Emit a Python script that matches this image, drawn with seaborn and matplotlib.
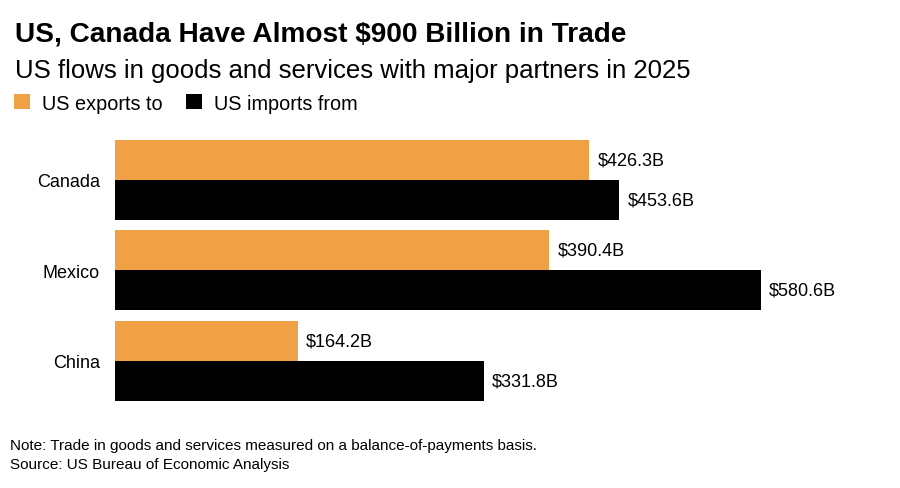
import matplotlib
matplotlib.use("Agg")
import pandas as pd
import seaborn as sns
import matplotlib.pyplot as plt

countries = ["Canada", "Mexico", "China"]
exports = [426.3, 390.4, 164.2]
imports = [453.6, 580.6, 331.8]
series = ["US exports to", "US imports from"]
colors = ["#F0A045", "#000000"]

df = pd.DataFrame({
    "country": countries * 2,
    "flow": [series[0]] * len(countries) + [series[1]] * len(countries),
    "value": exports + imports,
})

sns.set_theme(style="white")
plt.rcParams["font.family"] = ["Liberation Sans", "DejaVu Sans"]
plt.rcParams["text.color"] = "black"
plt.rcParams["ytick.color"] = "black"
plt.rcParams["ytick.labelcolor"] = "black"

W, H = 900, 489
fig = plt.figure(figsize=(W / 100, H / 100), dpi=100)
ax = fig.add_axes([115 / W, 1 - 407 / H, 765 / W, 271.5 / H])

sns.barplot(data=df, y="country", x="value", hue="flow", palette=colors,
            saturation=1, width=0.885, linewidth=0, orient="h", ax=ax)

ax.set_xlim(0, 688)
ax.set_ylim(2.5, -0.5)
ax.set_xticks([])
ax.set_xlabel("")
ax.set_ylabel("")
sns.despine(ax=ax, left=True, bottom=True)
ax.tick_params(axis="y", length=0, pad=11, labelsize=13, labelcolor="black")

for cont, vals in zip(ax.containers, [exports, imports]):
    ax.bar_label(cont, labels=[f"${v:.1f}B" for v in vals], padding=6,
                 fontsize=13, color="black")

handles, labels = ax.get_legend_handles_labels()
ax.get_legend().remove()
leg = fig.legend(handles, labels, loc="center left", bbox_to_anchor=(14 / W, 1 - 104 / H),
                 ncol=2, frameon=False, fontsize=14.3, handlelength=0.8, handleheight=0.8,
                 handletextpad=0.6, columnspacing=1.2, borderaxespad=0, borderpad=0)
for t in leg.get_texts():
    t.set_color("black")

fig.text(15 / W, 1 - 41 / H, "US, Canada Have Almost $900 Billion in Trade",
         fontsize=20.2, fontweight="bold", va="baseline", color="black")
fig.text(15 / W, 1 - 78 / H, "US flows in goods and services with major partners in 2025",
         fontsize=18.5, va="baseline", color="black")
narrow = ["Liberation Sans Narrow", "Liberation Sans", "DejaVu Sans"]
fig.text(10 / W, 1 - 450 / H,
         "Note: Trade in goods and services measured on a balance-of-payments basis.",
         fontsize=11, va="baseline", family=narrow, color="black")
fig.text(10 / W, 1 - 469 / H, "Source: US Bureau of Economic Analysis",
         fontsize=11, va="baseline", family=narrow, color="black")

fig.savefig("out.png", dpi=100)
